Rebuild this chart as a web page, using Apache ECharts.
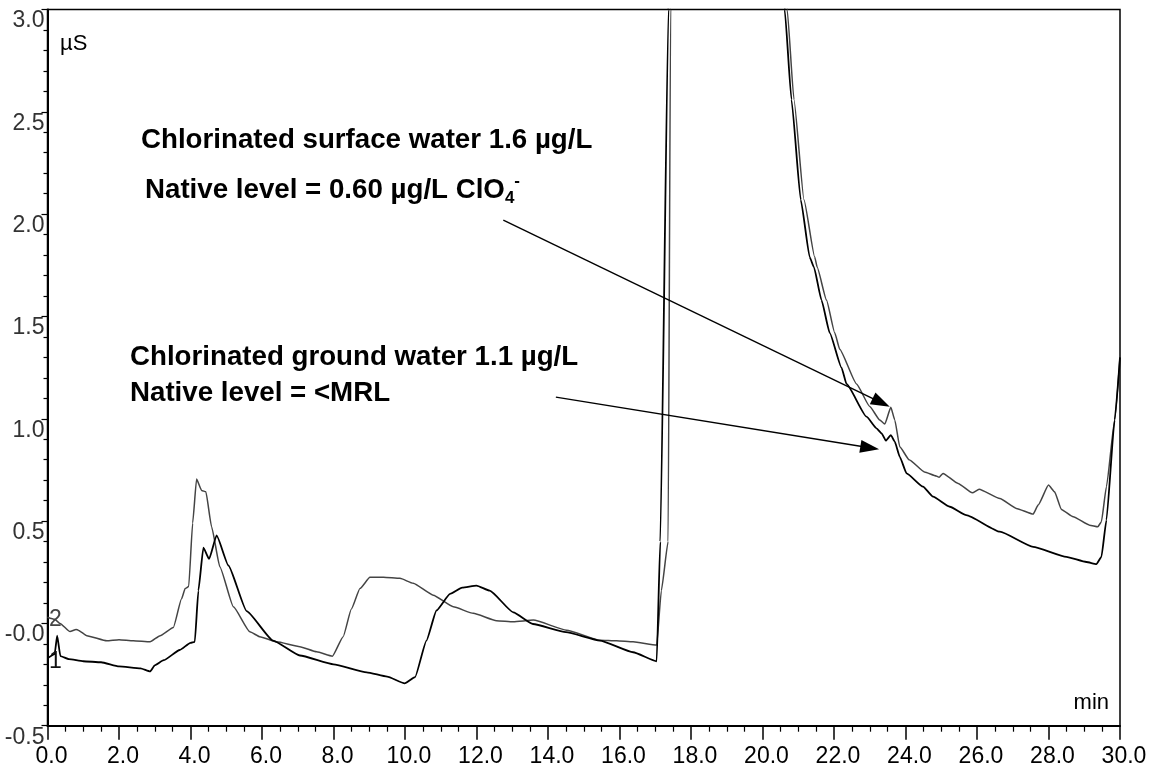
<!DOCTYPE html>
<html><head><meta charset="utf-8">
<script src="https://cdn.jsdelivr.net/npm/echarts@6/dist/echarts.min.js"></script>
<style>html,body{margin:0;padding:0;background:#fff}#c{width:1160px;height:777px}</style>
</head><body><div id="c"></div>
<script>
// Tick labels
const xTickLabels = ['0.0','2.0','4.0','6.0','8.0','10.0','12.0','14.0','16.0','18.0','20.0','22.0','24.0','26.0','28.0','30.0'];
const yTickLabels = ['-0.5','-0.0','0.5','1.0','1.5','2.0','2.5','3.0'];

// Trace 1 (black) – chlorinated ground water
const t1 = [0.0,0.2,0.27,0.36,0.6,1.0,1.5,2.0,2.6,2.87,3.0,3.25,3.7,4.0,4.12,4.22,4.36,4.52,4.73,5.06,5.57,6.31,7.06,8.0,8.93,9.5,9.99,10.28,10.6,10.88,11.26,11.6,12.0,12.37,13.03,13.58,14.5,15.45,16.38,17.04,17.14,17.37,17.6,20.3,20.45,20.62,20.81,21.07,21.32,21.44,21.65,21.88,22.21,22.35,22.91,23.19,23.33,23.45,23.59,23.70,23.84,24.03,24.49,24.77,25.24,25.70,26.64,27.57,28.5,29.06,29.34,29.48,29.62,29.85,30.0];
const v1 = [-0.17,-0.15,-0.06,-0.16,-0.175,-0.185,-0.19,-0.21,-0.22,-0.235,-0.205,-0.18,-0.13,-0.095,-0.09,0.16,0.37,0.315,0.43,0.283,0.06,-0.084,-0.157,-0.2,-0.239,-0.26,-0.293,-0.263,-0.084,0.063,0.144,0.175,0.185,0.16,0.054,-0.003,-0.043,-0.084,-0.141,-0.185,0.4,3.0,12,8,4.0,3.0,2.56,2.07,1.79,1.74,1.58,1.42,1.25,1.17,1.01,0.953,0.929,0.893,0.92,0.888,0.814,0.733,0.668,0.619,0.57,0.529,0.448,0.374,0.325,0.30,0.29,0.325,0.505,0.994,1.3];

// Trace 2 (grey) – chlorinated surface water
const t2 = [0.0,0.2,0.35,0.63,0.8,0.86,1.1,1.66,2.0,2.4,2.87,3.15,3.52,3.75,3.85,3.95,4.06,4.17,4.31,4.43,4.59,4.82,5.2,5.66,5.94,6.41,7.06,7.53,7.97,8.27,8.5,8.74,9.02,9.4,9.86,10.23,10.79,11.35,11.91,12.56,13.03,13.59,14.52,15.45,15.92,16.38,17.04,17.17,17.36,17.43,17.6,20.35,20.52,20.69,20.88,21.16,21.46,21.53,21.79,22.02,22.16,22.63,23.0,23.28,23.42,23.59,23.70,23.84,24.10,24.53,24.86,24.94,25.05,25.47,25.87,26.06,26.64,27.1,27.57,27.71,28.0,28.17,28.36,28.69,29.15,29.38,29.48,29.62,29.85,30.0];
const v2 = [0.03,0.02,0.0,-0.04,-0.03,-0.033,-0.06,-0.085,-0.08,-0.085,-0.09,-0.06,-0.02,0.12,0.17,0.18,0.49,0.705,0.65,0.643,0.472,0.277,0.081,-0.041,-0.065,-0.09,-0.114,-0.139,-0.16,-0.065,0.07,0.17,0.225,0.225,0.22,0.196,0.138,0.081,0.049,0.013,0.008,0.016,-0.033,-0.082,-0.085,-0.09,-0.106,0.16,0.4,3.0,12,8,4.0,3.0,2.56,2.07,1.79,1.74,1.58,1.42,1.34,1.17,1.06,0.994,0.974,1.056,0.994,0.863,0.80,0.74,0.72,0.714,0.733,0.684,0.638,0.655,0.61,0.562,0.534,0.578,0.676,0.643,0.557,0.521,0.48,0.472,0.497,0.668,0.994,1.3];

// Annotation arrows (data coordinates: [start], [end])
const arrowSurface = [[12.75, 1.971], [23.32, 1.079]];
const arrowGround = [[14.22, 1.106], [23.0, 0.858]];

const zip = (t, v) => t.map((x, i) => [x, v[i]]);
const font = 'Liberation Sans, Arial, Helvetica, sans-serif';

const chart = echarts.init(document.getElementById('c'), null, {renderer: 'canvas'});
const arrowEnd = {symbol: 'triangle', symbolSize: [13, 19]};

chart.setOption({
  animation: false,
  backgroundColor: '#fff',
  grid: {left: 47.5, right: 40, top: 9.5, bottom: 51.3, show: true, borderColor: '#000', borderWidth: 1.5, backgroundColor: 'transparent'},
  xAxis: {
    type: 'value', min: 0, max: 30, interval: 2,
    axisLine: {onZero: false, lineStyle: {color: '#000', width: 2}},
    axisTick: {show: true, inside: false, length: 14, lineStyle: {color: '#000', width: 1.5}},
    minorTick: {show: true, splitNumber: 4, length: 6, lineStyle: {color: '#000', width: 1.2}},
    splitLine: {show: false},
    axisLabel: {color: '#000', fontSize: 23, fontFamily: font, margin: 19, padding: [0, 0, 0, 8],
      formatter: v => xTickLabels[Math.round(v / 2)]}
  },
  yAxis: {
    type: 'value', min: -0.5, max: 3.0, interval: 0.5,
    axisLine: {onZero: false, lineStyle: {color: '#000', width: 2}},
    axisTick: {show: true, inside: false, length: 6, lineStyle: {color: '#000', width: 1.2}},
    minorTick: {show: true, splitNumber: 5, length: 4, lineStyle: {color: '#000', width: 1.2}},
    splitLine: {show: false},
    axisLabel: {color: '#333', fontSize: 23, fontFamily: font, margin: 3, verticalAlign: 'top', padding: [0, 0, 0, 0],
      formatter: v => yTickLabels[Math.round((v + 0.5) / 0.5)]}
  },
  series: [
    {
      type: 'line', name: '1', data: zip(t1, v1), showSymbol: false, symbol: 'none',
      smooth: 0.15, smoothMonotone: 'x',
      lineStyle: {color: '#000', width: 1.8}, clip: true, silent: true, z: 3,
      markLine: {
        silent: true, animation: false, symbol: ['none', 'triangle'],
        lineStyle: {color: '#000', width: 1.4, type: 'solid'},
        label: {show: false}, emphasis: {disabled: true},
        data: [
          [{coord: arrowSurface[0], symbol: 'none'}, Object.assign({coord: arrowSurface[1]}, arrowEnd)],
          [{coord: arrowGround[0], symbol: 'none'}, Object.assign({coord: arrowGround[1]}, arrowEnd)]
        ]
      }
    },
    {
      type: 'line', name: '2', data: zip(t2, v2), showSymbol: false, symbol: 'none',
      smooth: 0.15, smoothMonotone: 'x',
      lineStyle: {color: '#444', width: 1.5}, clip: true, silent: true, z: 2
    }
  ],
  graphic: [
    {type: 'text', x: 60, y: 44, style: {text: 'µS', font: '22px ' + font, fill: '#000', textVerticalAlign: 'middle'}},
    {type: 'text', x: 1109, y: 703, style: {text: 'min', font: '22px ' + font, fill: '#000', textAlign: 'right', textVerticalAlign: 'middle'}},
    {type: 'text', x: 49, y: 620, z: 10, style: {text: '2', font: '23px ' + font, fill: '#444', textVerticalAlign: 'middle'}},
    {type: 'text', x: 49, y: 662, z: 10, style: {text: '1', font: '23px ' + font, fill: '#111', textVerticalAlign: 'middle'}},
    {type: 'text', x: 141, y: 140, style: {text: 'Chlorinated surface water 1.6 µg/L', font: 'bold 27.7px ' + font, fill: '#000', textVerticalAlign: 'middle'}},
    {type: 'text', x: 145, y: 190, style: {
      text: '{a|Native level = 0.60 µg/L ClO}{b|4}{c|-}',
      textVerticalAlign: 'middle', fill: '#000',
      rich: {
        a: {fontSize: 27.7, fontWeight: 'bold', fontFamily: font, lineHeight: 34, verticalAlign: 'middle'},
        b: {fontSize: 17, fontWeight: 'bold', fontFamily: font, lineHeight: 34, verticalAlign: 'bottom'},
        c: {fontSize: 17, fontWeight: 'bold', fontFamily: font, lineHeight: 34, verticalAlign: 'top'}
      }
    }},
    {type: 'text', x: 130, y: 357, style: {text: 'Chlorinated ground water 1.1 µg/L', font: 'bold 27.7px ' + font, fill: '#000', textVerticalAlign: 'middle'}},
    {type: 'text', x: 130, y: 393, style: {text: 'Native level = <MRL', font: 'bold 27.7px ' + font, fill: '#000', textVerticalAlign: 'middle'}}
  ]
});
</script></body></html>
